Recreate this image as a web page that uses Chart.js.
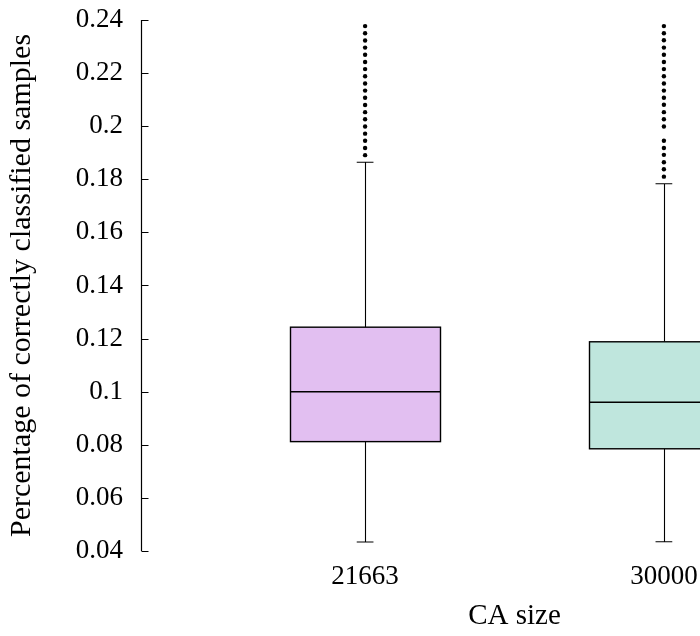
<!DOCTYPE html>
<html>
<head>
<meta charset="utf-8">
<script src="https://cdn.jsdelivr.net/npm/chart.js@4"></script>
<style>
  html, body { margin: 0; padding: 0; background: #fff; overflow: hidden; }
  #wrap { width: 700px; height: 636px; overflow: hidden; }
</style>
</head>
<body>
<div id="wrap"><canvas id="chart" width="900" height="636"></canvas></div>
<script>
const caSizes = ['21663', '30000'];
const whiskerLow = [0.0434, 0.0435];
const q1 = [0.0812, 0.0785];
const median = [0.1000, 0.0960];
const q3 = [0.1243, 0.1188];
const whiskerHigh = [0.1864, 0.1783];
const outliers21663 = [0.2377, 0.2350, 0.2323, 0.2296, 0.2269, 0.2242, 0.2215, 0.2188, 0.2161, 0.2134,
                       0.2107, 0.2080, 0.2053, 0.2026, 0.1999, 0.1972, 0.1945, 0.1918, 0.1891];
const outliers30000 = [0.2377, 0.2350, 0.2324, 0.2296, 0.2269, 0.2242, 0.2215, 0.2188, 0.2161, 0.2134,
                       0.2107, 0.2081, 0.2053, 0.2026, 0.1999, 0.1945, 0.1918, 0.1892, 0.1864, 0.1838,
                       0.1810];
const yTicks = [0.04, 0.06, 0.08, 0.10, 0.12, 0.14, 0.16, 0.18, 0.20, 0.22, 0.24];

const boxColors = ['rgb(226,191,241)', 'rgb(191,230,221)'];
const FONT = "'Liberation Serif', 'Times New Roman', serif";
const BOX_HALF = 0.25;   // half box width, x units
const CAP_HALF = 0.028;  // half whisker cap width, x units

// boxes, medians and whiskers, drawn from the scales
const boxPlot = {
  id: 'boxPlot',
  beforeDatasetsDraw(chart) {
    const { ctx, chartArea: a, scales: { x, y } } = chart;
    ctx.save();
    ctx.beginPath();
    ctx.rect(a.left, a.top, a.right - a.left, a.bottom - a.top);
    ctx.clip();
    ctx.strokeStyle = '#000';
    caSizes.forEach((_, i) => {
      const pos = i + 1;
      const cx = Math.round(x.getPixelForValue(pos)) + 0.5;
      const l = Math.round(x.getPixelForValue(pos - BOX_HALF)) + 0.5;
      const r = Math.round(x.getPixelForValue(pos + BOX_HALF)) + 0.5;
      const capL = x.getPixelForValue(pos - CAP_HALF);
      const capR = x.getPixelForValue(pos + CAP_HALF);
      const yTop = y.getPixelForValue(q3[i]);
      const yBot = y.getPixelForValue(q1[i]);
      const yMed = y.getPixelForValue(median[i]);
      const yHi = y.getPixelForValue(whiskerHigh[i]);
      const yLo = y.getPixelForValue(whiskerLow[i]);

      ctx.lineWidth = 1.1;
      ctx.beginPath();
      ctx.moveTo(cx, yTop); ctx.lineTo(cx, yHi);
      ctx.moveTo(capL, yHi); ctx.lineTo(capR, yHi);
      ctx.moveTo(cx, yBot); ctx.lineTo(cx, yLo);
      ctx.moveTo(capL, yLo); ctx.lineTo(capR, yLo);
      ctx.stroke();

      ctx.fillStyle = boxColors[i];
      ctx.fillRect(l, yTop, r - l, yBot - yTop);
      ctx.lineWidth = 1.4;
      ctx.strokeRect(l, yTop, r - l, yBot - yTop);
      ctx.beginPath();
      ctx.moveTo(l, yMed); ctx.lineTo(r, yMed);
      ctx.stroke();
    });
    ctx.restore();
  }
};

// left axis line with inward ticks
const leftAxis = {
  id: 'leftAxis',
  afterDraw(chart) {
    const { ctx, chartArea: a, scales: { y } } = chart;
    const x0 = a.left + 0.5;
    ctx.save();
    ctx.strokeStyle = '#000';
    ctx.lineWidth = 1.2;
    ctx.beginPath();
    ctx.moveTo(x0, y.getPixelForValue(yTicks[0]));
    ctx.lineTo(x0, y.getPixelForValue(yTicks[yTicks.length - 1]));
    yTicks.forEach(v => {
      const py = Math.round(y.getPixelForValue(v)) + 0.5;
      ctx.moveTo(x0, py);
      ctx.lineTo(x0 + 7, py);
    });
    ctx.stroke();
    ctx.restore();
  }
};

const toPoints = (pos, vals) => vals.map(v => ({ x: pos, y: v }));

new Chart(document.getElementById('chart'), {
  type: 'scatter',
  data: {
    datasets: [
      { data: toPoints(1, outliers21663) },
      { data: toPoints(2, outliers30000) }
    ]
  },
  options: {
    responsive: false,
    animation: false,
    devicePixelRatio: 1,
    layout: { padding: { top: 20, right: 12, left: 0, bottom: 0 } },
    elements: {
      point: { radius: 2.2, backgroundColor: '#000', borderColor: '#000', borderWidth: 0 }
    },
    plugins: { legend: { display: false }, tooltip: { enabled: false } },
    scales: {
      x: {
        type: 'linear',
        min: 0.25,
        max: 2.75,
        grid: { display: false, drawTicks: false },
        border: { display: false },
        afterBuildTicks: s => { s.ticks = caSizes.map((_, i) => ({ value: i + 1 })); },
        afterFit: s => { s.height = 85; s.paddingLeft = 0; s.paddingRight = 0; },
        ticks: {
          callback: v => caSizes[v - 1],
          color: '#000',
          font: { family: FONT, size: 27 },
          padding: 10,
          maxRotation: 0,
          autoSkip: false
        },
        title: {
          display: true,
          text: 'CA size',
          color: '#000',
          font: { family: FONT, size: 29 },
          padding: { top: 0, bottom: 2 }
        }
      },
      y: {
        type: 'linear',
        min: 0.04,
        max: 0.24,
        grid: { display: false, drawTicks: false },
        border: { display: false },
        afterBuildTicks: s => { s.ticks = yTicks.map(v => ({ value: v })); },
        afterFit: s => { s.width = 141; s.paddingTop = 0; s.paddingBottom = 0; },
        ticks: {
          callback: v => String(+v.toFixed(2)),
          color: '#000',
          font: { family: FONT, size: 27 },
          padding: 18
        },
        title: {
          display: true,
          text: 'Percentage of correctly classified samples',
          color: '#000',
          font: { family: FONT, size: 30 },
          padding: { top: 4, bottom: 0 }
        }
      }
    }
  },
  plugins: [boxPlot, leftAxis]
});
</script>
</body>
</html>
